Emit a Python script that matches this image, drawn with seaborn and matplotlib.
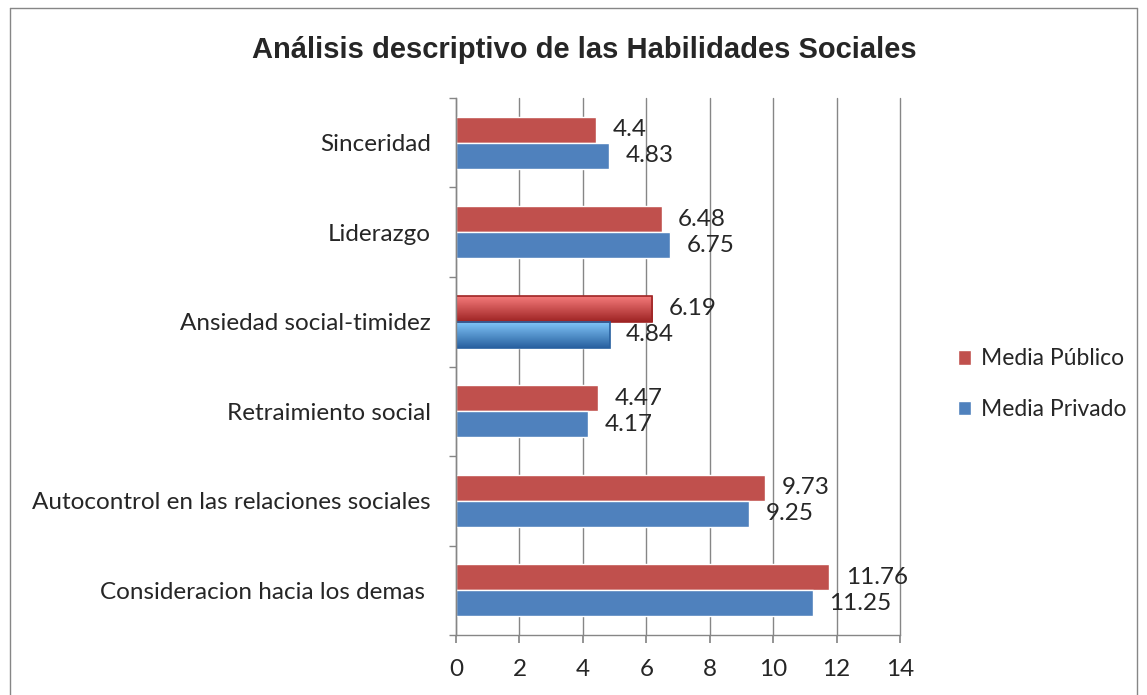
import matplotlib
matplotlib.use("Agg")
import matplotlib.pyplot as plt
import numpy as np
import pandas as pd
import seaborn as sns
from matplotlib.lines import Line2D

categories = [
  "Sinceridad",
  "Liderazgo",
  "Ansiedad social-timidez",
  "Retraimiento social",
  "Autocontrol en las relaciones sociales",
  "Consideracion hacia los demas ",
]
media_publico = [4.4, 6.48, 6.19, 4.47, 9.73, 11.76]
media_privado = [4.83, 6.75, 4.84, 4.17, 9.25, 11.25]
series_names = ["Media Público", "Media Privado"]
x_ticks = [0, 2, 4, 6, 8, 10, 12, 14]

RED = "#C0504D"
BLUE = "#4F81BD"
GRID = "#868686"
FS = 17.5

df = pd.DataFrame({
  "categoria": categories * 2,
  "valor": media_publico + media_privado,
  "serie": [series_names[0]] * len(categories) + [series_names[1]] * len(categories),
})

sns.set_theme(style="white")
plt.rcParams["font.family"] = ["Lato", "DejaVu Sans"]

fig = plt.figure(figsize=(11.47, 6.95), dpi=100)
ax = fig.add_axes([0.3976, 0.0863, 0.3871, 0.7727])

sns.barplot(
  data=df, x="valor", y="categoria", hue="serie", order=categories,
  hue_order=series_names, palette=[RED, BLUE], orient="h", width=0.58,
  saturation=1, legend=True, ax=ax,
)

ax.set_xlim(0, 14)
ax.set_ylim(5.5, -0.5)
ax.set_xticks(x_ticks)
ax.set_xticklabels([str(t) for t in x_ticks])
ax.set_xlabel("")
ax.set_ylabel("")
ax.grid(axis="x", color=GRID, lw=1)
ax.set_axisbelow(True)
for line in ax.get_xgridlines():
  line.set_clip_on(False)
for side in ["top", "right"]:
  ax.spines[side].set_visible(False)
for side in ["left", "bottom"]:
  ax.spines[side].set_color(GRID)
  ax.spines[side].set_linewidth(1)

ax.set_yticks(np.arange(-0.5, 6, 1), minor=True)
ax.tick_params(axis="y", which="major", length=0, pad=18, labelsize=FS)
ax.tick_params(axis="y", which="minor", length=5, color=GRID, direction="out", left=True)
ax.tick_params(axis="x", length=6, color=GRID, direction="out", bottom=True, pad=11, labelsize=FS)

# value labels and gradient on the highlighted category
for container, vals in zip(ax.containers, [media_publico, media_privado]):
  ax.bar_label(container, labels=[f"{v:g}" for v in vals], padding=12, fontsize=FS)

hi = categories.index("Ansiedad social-timidez")
grads = [("#F47A7A", "#9E2424"), ("#80C4F7", "#28609F")]
for container, (c1, c2) in zip(ax.containers, grads):
  bar = container.patches[hi]
  x0, y0 = bar.get_x(), bar.get_y()
  w, h = bar.get_width(), bar.get_height()
  cmap = matplotlib.colors.LinearSegmentedColormap.from_list("g", [c1, c2])
  grad = np.linspace(0, 1, 50).reshape(-1, 1)
  im = ax.imshow(grad, cmap=cmap, extent=[x0, x0 + w, y0 + h, y0], aspect="auto", zorder=bar.get_zorder() + 0.1)
  im.set_clip_path(bar)
  ax.add_patch(plt.Rectangle((x0, y0), w, h, fill=False, ec=c2, lw=1.2, zorder=bar.get_zorder() + 0.2))
ax.set_xlim(0, 14)
ax.set_ylim(5.5, -0.5)

leg = ax.legend(
  loc="center left", bbox_to_anchor=(0.835, 0.447), bbox_transform=fig.transFigure,
  frameon=False, fontsize=16.5, handlelength=0.6, handleheight=0.6, handletextpad=0.4,
  labelspacing=1.3, borderpad=0, borderaxespad=0,
)

fig.text(0.509, 0.928, "Análisis descriptivo de las Habilidades Sociales", ha="center", va="center",
         fontsize=21, fontweight="bold", family=["Liberation Sans", "DejaVu Sans"])

for xs, ys in [([0.0087, 0.0087], [0.0, 0.9885]), ([0.0087, 0.9913], [0.9885, 0.9885]),
               ([0.9913, 0.9913], [0.0, 0.9885])]:
  fig.add_artist(Line2D(xs, ys, transform=fig.transFigure, color=GRID, lw=1))

fig.savefig("out.png", dpi=100)
